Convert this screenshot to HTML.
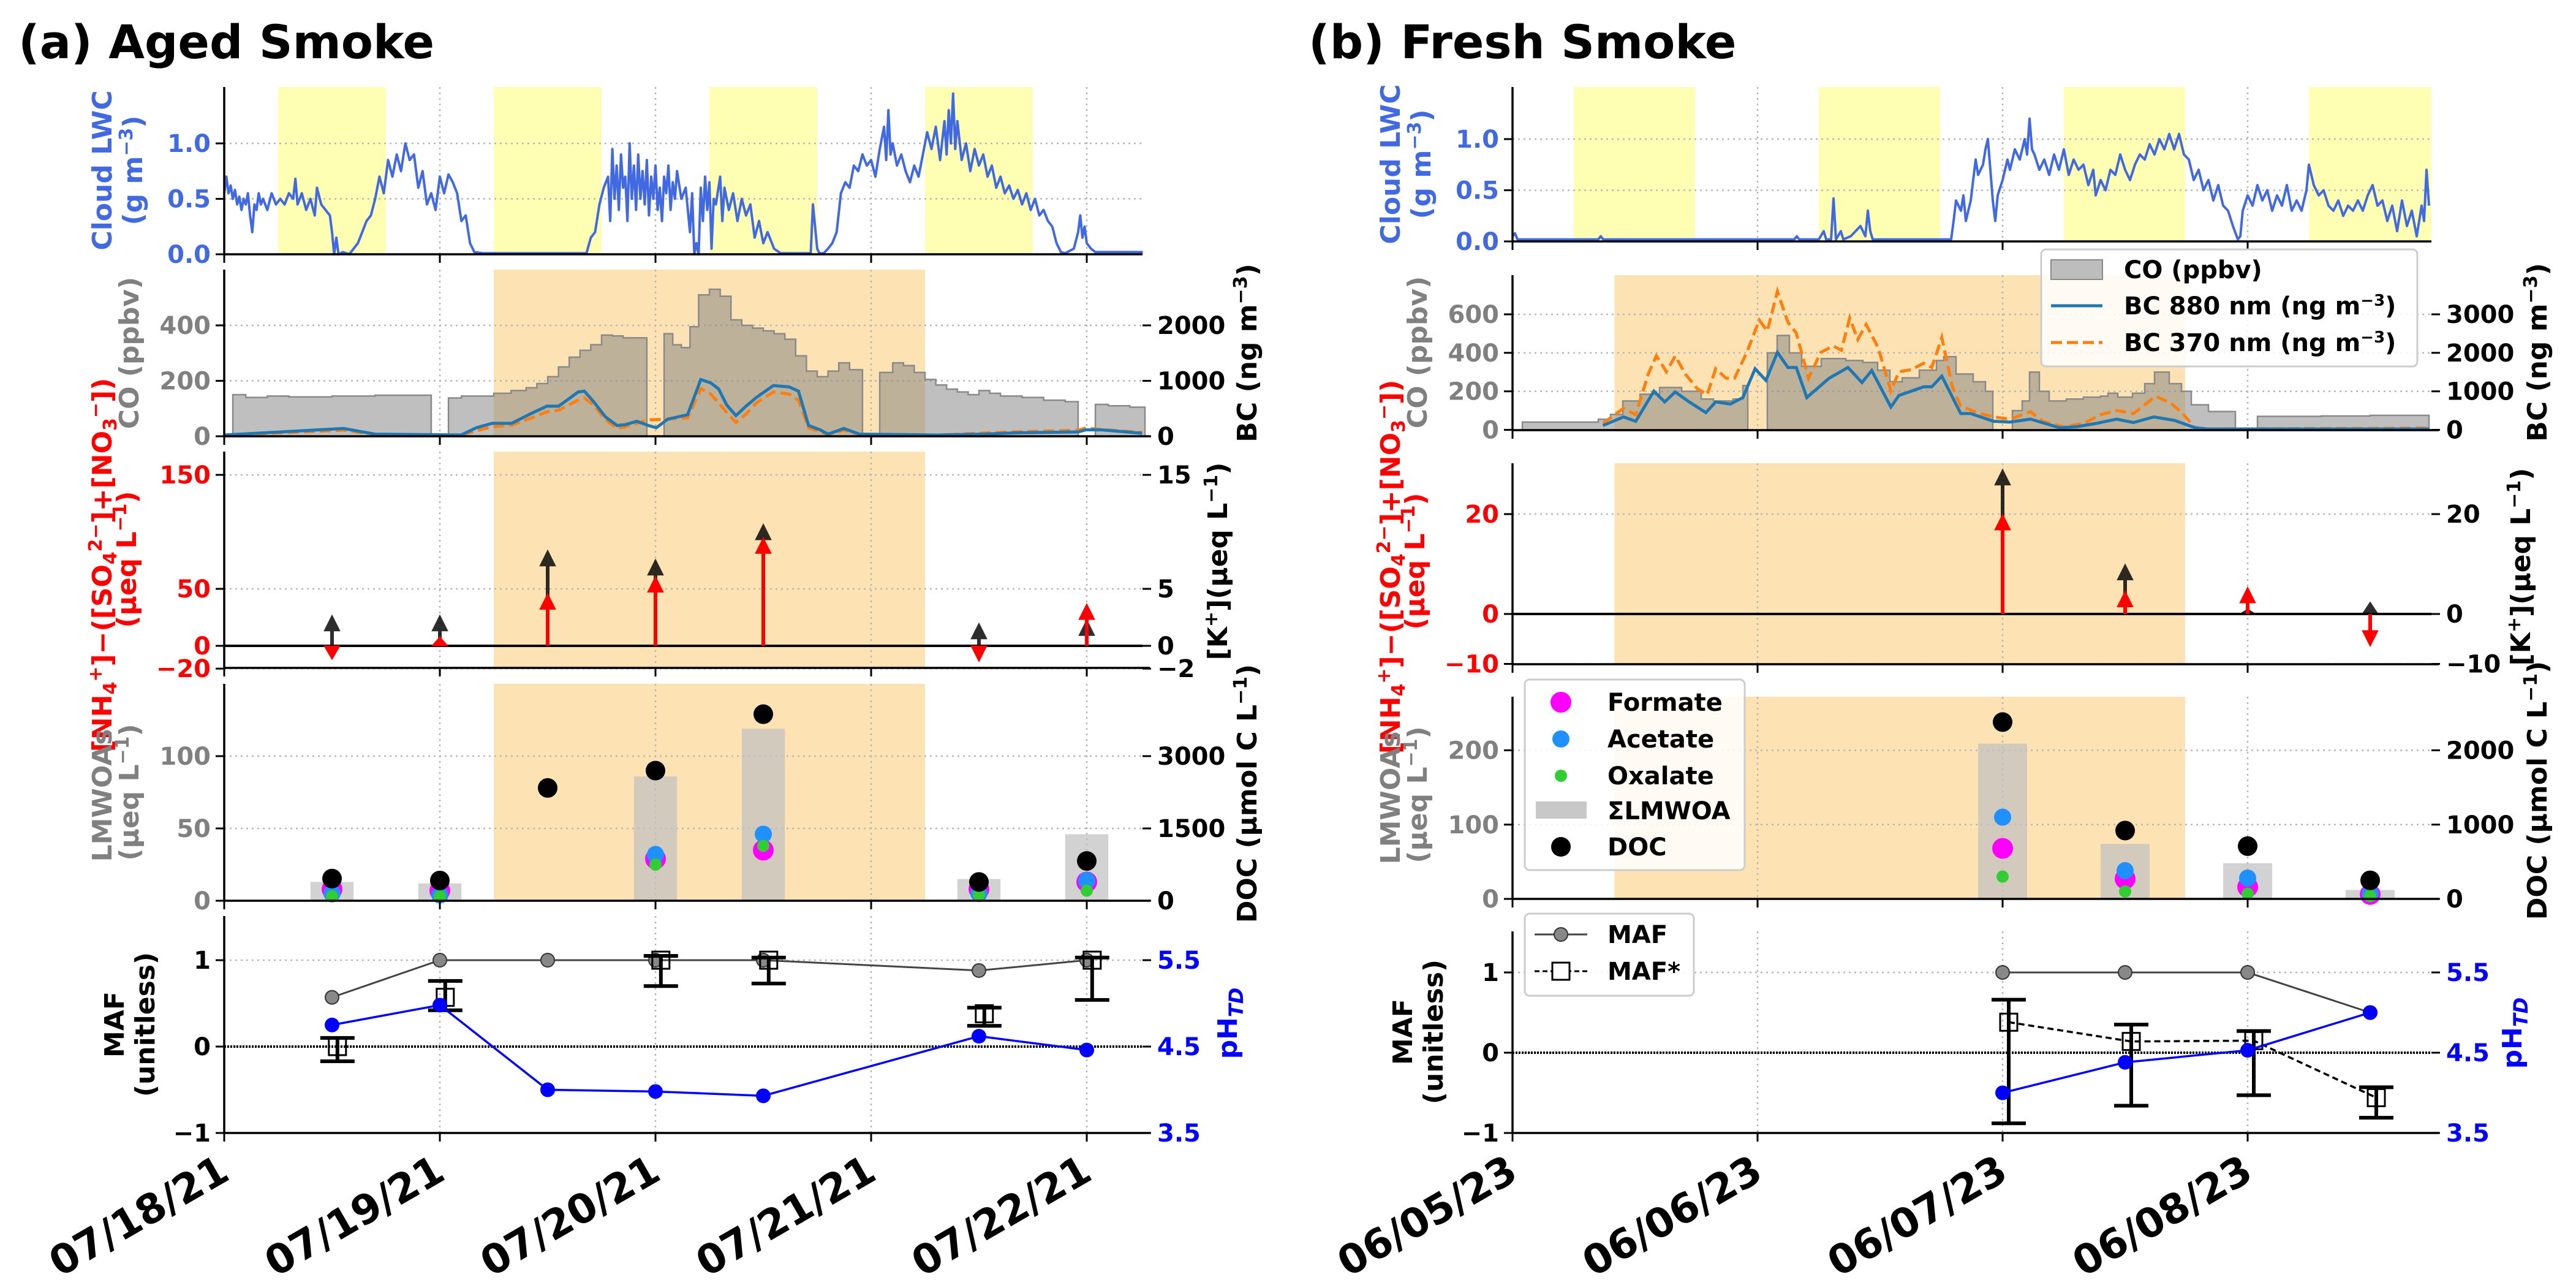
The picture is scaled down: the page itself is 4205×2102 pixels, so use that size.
<!DOCTYPE html>
<html><head><meta charset="utf-8"><title>Aged vs Fresh Smoke</title>
<style>
html,body{margin:0;padding:0;background:#fff;}
svg{display:block;font-family:"DejaVu Sans","Liberation Sans",sans-serif;font-weight:bold;}
</style></head>
<body>
<svg id="chart" xmlns="http://www.w3.org/2000/svg" width="4205" height="2102" viewBox="0 0 4205 2102">
<rect x="0" y="0" width="4205" height="2102" fill="#fff"/>
<text x="30" y="95" font-size="76" fill="#000">(a) Aged Smoke</text>
<text x="2136" y="95" font-size="76" fill="#000">(b) Fresh Smoke</text>
<g id="layer"></g>

<!-- Panel A y labels -->
<g font-size="44" text-anchor="middle">
<text transform="translate(182,278) rotate(-90)" fill="#4169e1">Cloud LWC</text>
<text transform="translate(232,278) rotate(-90)" fill="#4169e1">(g m<tspan dy="-16" font-size="30">−3</tspan><tspan dy="16">)</tspan></text>
<text transform="translate(226,576) rotate(-90)" fill="#808080">CO (ppbv)</text>
<text transform="translate(182,922) rotate(-90)" fill="#ff0000">[NH<tspan dy="8" font-size="30">4</tspan><tspan dy="-24" font-size="30">+</tspan><tspan dy="16">]−([SO</tspan><tspan dy="8" font-size="30">4</tspan><tspan dy="-24" font-size="30">2−</tspan><tspan dy="16">]+[NO</tspan><tspan dy="8" font-size="30">3</tspan><tspan dy="-24" font-size="30">−</tspan><tspan dy="16">])</tspan></text>
<text transform="translate(222,913) rotate(-90)" fill="#ff0000">(μeq L<tspan dy="-16" font-size="30">−1</tspan><tspan dy="16">)</tspan></text>
<text transform="translate(182,1298) rotate(-90)" fill="#808080">LMWOAs</text>
<text transform="translate(226,1293) rotate(-90)" fill="#808080">(μeq L<tspan dy="-16" font-size="30">−1</tspan><tspan dy="16">)</tspan></text>
<text transform="translate(202,1672) rotate(-90)" fill="#000">MAF</text>
<text transform="translate(252,1672) rotate(-90)" fill="#000">(unitless)</text>
<text transform="translate(2051,576) rotate(-90)" fill="#000">BC (ng m<tspan dy="-16" font-size="30">−3</tspan><tspan dy="16">)</tspan></text>
<text transform="translate(2003,916) rotate(-90)" fill="#000">[K<tspan dy="-16" font-size="30">+</tspan><tspan dy="16">](μeq L</tspan><tspan dy="-16" font-size="30">−1</tspan><tspan dy="16">)</tspan></text>
<text transform="translate(2051,1295) rotate(-90)" fill="#000">DOC (μmol C L<tspan dy="-16" font-size="30">−1</tspan><tspan dy="16">)</tspan></text>
<text transform="translate(2019,1670) rotate(-90)" fill="#0000ff">pH<tspan dy="10" font-size="32" font-style="italic">TD</tspan></text>
</g>

<!-- Panel B y labels -->
<g font-size="44" text-anchor="middle">
<text transform="translate(2285,268) rotate(-90)" fill="#4169e1">Cloud LWC</text>
<text transform="translate(2335,268) rotate(-90)" fill="#4169e1">(g m<tspan dy="-16" font-size="30">−3</tspan><tspan dy="16">)</tspan></text>
<text transform="translate(2329,575) rotate(-90)" fill="#808080">CO (ppbv)</text>
<text transform="translate(2285,925) rotate(-90)" fill="#ff0000">[NH<tspan dy="8" font-size="30">4</tspan><tspan dy="-24" font-size="30">+</tspan><tspan dy="16">]−([SO</tspan><tspan dy="8" font-size="30">4</tspan><tspan dy="-24" font-size="30">2−</tspan><tspan dy="16">]+[NO</tspan><tspan dy="8" font-size="30">3</tspan><tspan dy="-24" font-size="30">−</tspan><tspan dy="16">])</tspan></text>
<text transform="translate(2325,916) rotate(-90)" fill="#ff0000">(μeq L<tspan dy="-16" font-size="30">−1</tspan><tspan dy="16">)</tspan></text>
<text transform="translate(2285,1302) rotate(-90)" fill="#808080">LMWOAs</text>
<text transform="translate(2329,1297) rotate(-90)" fill="#808080">(μeq L<tspan dy="-16" font-size="30">−1</tspan><tspan dy="16">)</tspan></text>
<text transform="translate(2305,1684) rotate(-90)" fill="#000">MAF</text>
<text transform="translate(2355,1684) rotate(-90)" fill="#000">(unitless)</text>
<text transform="translate(4157,575) rotate(-90)" fill="#000">BC (ng m<tspan dy="-16" font-size="30">−3</tspan><tspan dy="16">)</tspan></text>
<text transform="translate(4130,925) rotate(-90)" fill="#000">[K<tspan dy="-16" font-size="30">+</tspan><tspan dy="16">](μeq L</tspan><tspan dy="-16" font-size="30">−1</tspan><tspan dy="16">)</tspan></text>
<text transform="translate(4157,1290) rotate(-90)" fill="#000">DOC (μmol C L<tspan dy="-16" font-size="30">−1</tspan><tspan dy="16">)</tspan></text>
<text transform="translate(4116,1686) rotate(-90)" fill="#0000ff">pH<tspan dy="10" font-size="32" font-style="italic">TD</tspan></text>
</g>

<!-- Legends panel B -->
<g font-size="40">
<rect x="3332" y="407" width="614" height="191" rx="8" fill="#fff" fill-opacity="0.85" stroke="#cccccc" stroke-width="3"/>
<rect x="3348" y="424" width="84" height="32" fill="#bdbdbd" stroke="#888" stroke-width="2"/>
<text x="3467" y="454">CO (ppbv)</text>
<line x1="3348" y1="499" x2="3432" y2="499" stroke="#1f77b4" stroke-width="5"/>
<text x="3467" y="513">BC 880 nm (ng m<tspan dy="-14" font-size="26">−3</tspan><tspan dy="14">)</tspan></text>
<line x1="3348" y1="559" x2="3432" y2="559" stroke="#ff7f0e" stroke-width="5" stroke-dasharray="18,8"/>
<text x="3467" y="573">BC 370 nm (ng m<tspan dy="-14" font-size="26">−3</tspan><tspan dy="14">)</tspan></text>
</g>
<g font-size="40">
<rect x="2489" y="1109" width="359" height="311" rx="8" fill="#fff" fill-opacity="0.85" stroke="#cccccc" stroke-width="3"/>
<circle cx="2548" cy="1146" r="17" fill="#ff00ff"/>
<text x="2624" y="1160">Formate</text>
<circle cx="2548" cy="1206" r="14" fill="#1e90ff"/>
<text x="2624" y="1220">Acetate</text>
<circle cx="2548" cy="1266" r="10" fill="#32cd32"/>
<text x="2624" y="1280">Oxalate</text>
<rect x="2507" y="1308" width="83" height="28" fill="#c8c8c8"/>
<text x="2624" y="1337">ΣLMWOA</text>
<circle cx="2548" cy="1382" r="16" fill="#000"/>
<text x="2624" y="1396">DOC</text>
</g>
<g font-size="40">
<rect x="2489" y="1491" width="276" height="134" rx="8" fill="#fff" fill-opacity="0.85" stroke="#cccccc" stroke-width="3"/>
<line x1="2505" y1="1525" x2="2591" y2="1525" stroke="#444" stroke-width="3"/>
<circle cx="2548" cy="1525" r="11" fill="#888" stroke="#333" stroke-width="2"/>
<text x="2624" y="1539">MAF</text>
<line x1="2505" y1="1585" x2="2591" y2="1585" stroke="#000" stroke-width="3" stroke-dasharray="8,5"/>
<rect x="2534" y="1571" width="28" height="28" fill="#fff" stroke="#000" stroke-width="3"/>
<text x="2624" y="1599">MAF*</text>
</g>
</svg>

<script>
// ---------------- DATA: Panel A (Aged smoke, days since 07/18/21) ----------------
const lwcA_t = [0,.01,.02,.03,.04,.05,.06,.07,.08,.09,.1,.11,.12,.13,.14,.15,.16,.17,.18,.2,.22,.24,.26,.28,.3,.32,.33,.34,.36,.38,.4,.42,.43,.45,.47,.49,.5,.51,.52,.53,.55,.58,.6,.62,.64,.66,.68,.7,.72,.74,.76,.78,.8,.82,.84,.86,.88,.9,.92,.94,.96,.98,1.0,1.02,1.04,1.06,1.08,1.1,1.12,1.14,1.16,1.2,1.6,1.68,1.7,1.72,1.74,1.76,1.78,1.79,1.8,1.81,1.82,1.83,1.84,1.85,1.86,1.87,1.88,1.89,1.9,1.91,1.92,1.93,1.94,1.95,1.96,1.97,1.98,1.99,2.0,2.01,2.02,2.03,2.04,2.05,2.06,2.07,2.08,2.09,2.1,2.12,2.14,2.16,2.17,2.18,2.19,2.2,2.21,2.22,2.23,2.24,2.25,2.26,2.27,2.28,2.3,2.31,2.32,2.34,2.36,2.38,2.4,2.42,2.44,2.46,2.48,2.5,2.52,2.55,2.58,2.72,2.73,2.75,2.76,2.78,2.8,2.82,2.84,2.86,2.88,2.9,2.92,2.94,2.96,2.98,3.0,3.02,3.04,3.06,3.07,3.08,3.09,3.1,3.12,3.14,3.16,3.18,3.2,3.22,3.24,3.26,3.28,3.3,3.32,3.34,3.35,3.36,3.37,3.38,3.39,3.4,3.42,3.44,3.46,3.48,3.5,3.52,3.54,3.56,3.58,3.6,3.62,3.64,3.66,3.68,3.7,3.72,3.74,3.76,3.78,3.8,3.82,3.84,3.86,3.88,3.9,3.94,3.96,3.97,3.98,3.99,4.0,4.02,4.04,4.26];
const lwcA_v = [.55,.7,.55,.62,.5,.58,.45,.52,.4,.5,.45,.55,.35,.2,.45,.4,.55,.45,.5,.4,.55,.45,.5,.45,.55,.5,.68,.45,.55,.4,.5,.35,.6,.45,.4,.35,.2,0,.15,0,.02,0,.05,.1,.2,.3,.35,.5,.7,.55,.85,.7,.9,.75,1.0,.85,.9,.6,.75,.45,.55,.4,.7,.55,.72,.65,.55,.3,.35,.1,.02,.01,.01,.01,.15,.2,.45,.6,.7,.3,.95,.5,.8,.4,.9,.6,.7,.3,1.0,.5,.8,.4,.9,.5,.75,.45,.85,.35,.7,.5,.8,.4,.6,.3,.7,.55,.8,.4,.65,.5,.75,.5,.6,.2,.55,0,.1,0,.6,.3,.7,.4,.65,.05,.5,.45,.7,.3,.6,.4,.55,.3,.5,.35,.45,.15,.3,.1,.2,.05,.01,.01,.45,.05,.01,.01,.05,.1,.2,.55,.65,.6,.8,.75,.9,.8,.85,.7,.95,1.15,.85,1.3,.9,1.0,.8,.9,.75,.65,.8,.7,.9,1.1,.95,1.15,.85,1.2,.9,1.3,1.0,1.45,.95,1.2,.85,1.0,.75,.95,.8,.9,.7,.8,.6,.7,.55,.62,.5,.58,.45,.55,.4,.5,.35,.4,.3,.25,.1,.02,.01,.05,.2,.35,.15,.25,.1,.05,.02,.02];

const coA_t = [0.04,0.1,0.2,0.3,0.5,0.7,0.96,1.04,1.1,1.25,1.33,1.4,1.45,1.5,1.55,1.6,1.65,1.7,1.75,1.8,1.85,1.96,2.04,2.08,2.12,2.16,2.2,2.25,2.3,2.35,2.4,2.45,2.5,2.55,2.6,2.65,2.7,2.75,2.8,2.85,2.9,2.96,3.04,3.1,3.15,3.2,3.25,3.3,3.35,3.4,3.45,3.5,3.55,3.6,3.7,3.8,3.9,3.96,4.04,4.1,4.2,4.27];
const coA_v = [150,140,145,142,145,148,null,138,145,155,165,175,190,215,250,285,310,330,365,362,355,null,370,330,320,395,510,530,505,420,400,390,380,370,350,290,235,215,235,265,240,null,230,265,255,230,205,185,170,160,150,165,155,145,140,130,125,null,115,110,105,null];

const bcA_t   = [0,0.554,0.699,1.098,1.17,1.243,1.333,1.424,1.496,1.551,1.641,1.67,1.714,1.768,1.822,1.859,1.913,1.967,2.004,2.058,2.149,2.21,2.257,2.293,2.33,2.373,2.42,2.467,2.547,2.62,2.663,2.71,2.764,2.8,2.873,2.946,3.308,3.525,3.67,3.96,3.996,4.069,4.257];
const bcA_880 = [23,140,39,23,155,233,233,411,542,542,798,814,620,349,194,209,271,194,155,310,388,1023,961,853,566,372,542,698,915,891,814,194,116,39,140,39,23,39,62,78,116,116,54];
const bcA_370 = [15,110,30,15,100,170,200,330,440,470,650,690,560,300,140,170,230,300,300,310,330,860,760,600,430,250,400,600,800,760,650,150,80,30,110,25,20,60,80,110,150,120,70];

const sampA   = [0.5,1.0,1.5,2.0,2.5,3.5,4.0];
const ionA    = [-12,8,46,61,95,-14,37];
const kA      = [2.7,2.7,8.4,7.6,10.7,2.0,2.3];
const lmwA    = [13,12,null,86,119,15,46];
const formA   = [8,7,null,29,35,8,13];
const acetA   = [5,4,null,32,46,5,14];
const oxalA   = [3,3,null,25,38,4,7];
const docA    = [460,420,2340,2700,3870,390,825];
const mafA    = [0.57,1,1,1,1,0.88,1];
const mafsA   = [0,0.57,null,1,1,0.38,1];
const mafsLoA = [-0.17,0.42,null,0.7,0.73,0.24,0.54];
const mafsHiA = [0.1,0.76,null,1.05,1.03,0.45,1.03];
const phA     = [4.75,4.98,4.0,3.98,3.93,4.62,4.46];

// ---------------- DATA: Panel B (Fresh smoke, days since 06/05/23) ----------------
const lwcB_t = [0,.01,.02,.35,.36,.37,1.15,1.16,1.17,1.25,1.27,1.28,1.3,1.31,1.32,1.34,1.35,1.38,1.4,1.42,1.44,1.45,1.46,1.47,1.79,1.8,1.81,1.83,1.84,1.85,1.87,1.88,1.89,1.9,1.92,1.93,1.94,1.95,1.96,1.97,1.98,2.0,2.02,2.03,2.05,2.07,2.09,2.1,2.11,2.12,2.13,2.15,2.17,2.19,2.21,2.23,2.25,2.27,2.29,2.31,2.33,2.35,2.37,2.38,2.4,2.42,2.44,2.46,2.48,2.5,2.52,2.54,2.56,2.58,2.6,2.62,2.64,2.66,2.68,2.7,2.72,2.74,2.76,2.78,2.8,2.82,2.84,2.86,2.88,2.9,2.92,2.94,2.96,2.97,2.98,3.0,3.02,3.04,3.06,3.08,3.1,3.12,3.14,3.16,3.18,3.2,3.22,3.24,3.25,3.27,3.29,3.31,3.33,3.35,3.37,3.39,3.41,3.43,3.45,3.47,3.49,3.51,3.53,3.55,3.57,3.59,3.61,3.63,3.65,3.67,3.69,3.71,3.72,3.73,3.74];
const lwcB_v = [.05,.08,.02,.02,.05,.02,.02,.05,.02,.02,.1,.02,.02,.42,.02,.1,.02,.05,.1,.15,.05,.3,.1,.02,.02,.2,.4,.3,.45,.2,.4,.6,.8,.65,.75,.9,1.0,.7,.4,.2,.45,.6,.8,.7,.9,.8,1.0,.85,1.2,.9,.85,.7,.8,.65,.85,.7,.9,.65,.8,.7,.75,.55,.7,.45,.6,.5,.7,.65,.85,.7,.6,.75,.85,.8,.95,.85,1.0,.9,1.05,.9,1.05,.85,.8,.6,.7,.5,.6,.4,.55,.35,.3,.15,.02,.05,.3,.45,.35,.55,.4,.5,.3,.45,.35,.55,.3,.4,.3,.5,.75,.55,.45,.5,.35,.3,.4,.25,.35,.3,.4,.3,.45,.55,.35,.4,.2,.35,.1,.4,.15,.3,.05,.35,.2,.7,.35];

const coB_t = [0.04,0.35,0.4,0.45,0.52,0.6,0.69,0.77,0.82,0.9,0.94,0.96,1.04,1.08,1.13,1.18,1.26,1.36,1.43,1.49,1.54,1.59,1.66,1.73,1.76,1.81,1.88,1.93,1.96,2.04,2.08,2.11,2.15,2.19,2.26,2.33,2.4,2.43,2.47,2.53,2.58,2.62,2.68,2.73,2.77,2.84,2.95,3.04,3.3,3.5,3.74];
const coB_v = [40,55,80,150,185,220,200,160,150,160,230,null,400,490,400,330,370,360,350,310,250,270,310,360,380,290,250,200,null,100,150,300,200,150,160,170,175,190,170,190,240,300,240,200,130,95,null,70,72,75,null];

const bcB_t   = [0.369,0.453,0.503,0.577,0.621,0.664,0.721,0.789,0.829,0.889,0.94,0.99,1.034,1.081,1.124,1.158,1.201,1.292,1.369,1.426,1.466,1.544,1.577,1.628,1.678,1.711,1.752,1.829,1.869,1.963,2.03,2.114,2.232,2.299,2.383,2.466,2.534,2.617,2.701,2.785,2.836,3.742];
const bcB_880 = [112,335,223,1005,726,983,726,447,726,670,838,1586,1285,2011,1620,1620,838,1340,1620,1229,1541,592,894,1005,1117,1117,1396,424,424,223,201,279,56,78,168,279,190,335,246,56,22,22];
const bc370B_t = [0.369,0.453,0.503,0.554,0.587,0.628,0.664,0.705,0.755,0.795,0.829,0.872,0.906,0.956,1.007,1.04,1.081,1.124,1.158,1.208,1.258,1.309,1.342,1.376,1.409,1.443,1.493,1.544,1.577,1.628,1.678,1.711,1.752,1.795,1.829,1.896,1.963,2.03,2.114,2.164,2.248,2.332,2.399,2.466,2.534,2.584,2.624,2.685,2.735,2.785,2.836,3.742];
const bcB_370 = [168,559,391,1452,1921,1508,1921,1452,1061,916,1586,1340,1340,2011,2848,2569,3597,2793,2513,1340,2011,2178,2066,2904,2346,2737,2122,1005,1508,1564,1731,1620,2402,1117,614,447,335,279,469,223,78,168,391,503,424,670,871,704,424,56,22,45];

const sampB   = [2.0,2.5,3.0,3.5];
const ionB    = [20,4.6,5.4,-6.5];
const kB      = [29,10,1.0,2.4];
const lmwB    = [209,74,48,12];
const formB   = [68,27,16,6];
const acetB   = [110,38,28,7];
const oxalB   = [30,10,7,4];
const docB    = [2380,920,710,250];
const mafB    = [1,1,1,0.5];
const mafsB   = [0.38,0.14,0.15,-0.56];
const mafsLoB = [-0.88,-0.66,-0.53,-0.81];
const mafsHiB = [0.66,0.35,0.27,-0.43];
const phB     = [4.0,4.38,4.53,5.0];

// tick labels
const dayLabelsA = ['07/18/21','07/19/21','07/20/21','07/21/21','07/22/21'];
const dayLabelsB = ['06/05/23','06/06/23','06/07/23','06/08/23'];

// ---------------- RENDERING ----------------
const NS = 'http://www.w3.org/2000/svg';
const layer = document.getElementById('layer');
function mk(tag, attrs, parent){
  const e = document.createElementNS(NS, tag);
  for (const k in attrs) e.setAttribute(k, attrs[k]);
  (parent || layer).appendChild(e);
  return e;
}
function fmt(v, dec){
  const s = dec ? Math.abs(v).toFixed(dec) : String(Math.abs(v));
  return v < 0 ? '−' + s : s;
}

const panelA = {
  key:'a', x0:366, ppd:352, x1:1865, xmax:4.27, labels:dayLabelsA,
  yellow:[[0.25,0.75],[1.25,1.75],[2.25,2.75],[3.25,3.75]], orange:[1.25,3.25],
  subs:[
    {top:142,bot:415,zero:415,unit:181,lt:[0,0.5,1.0],dec:1,lc:'#4169e1'},
    {top:440,bot:712,zero:712,unit:0.4525,lt:[0,200,400],lc:'#808080',rt:[0,1000,2000],r2l:v=>v/5,rc:'#000'},
    {top:737,bot:1090,zero:1054,unit:1.86,lt:[-20,0,50,150],lc:'#ff0000',rt:[-2,0,5,15],r2l:v=>v*10,rc:'#000'},
    {top:1116,bot:1470,zero:1470,unit:2.36,lt:[0,50,100],lc:'#808080',rt:[0,1500,3000],r2l:v=>v/30,rc:'#000'},
    {top:1495,bot:1849,zero:1708,unit:141,lt:[-1,0,1],lc:'#000',rt:[3.5,4.5,5.5],r2l:v=>v-4.5,rc:'#0000ff',rdec:1}
  ],
  kFactor:10, docFactor:30,
  lwc_t:lwcA_t, lwc_v:lwcA_v, co_t:coA_t, co_v:coA_v,
  bc_t:bcA_t, bc880:bcA_880, bc370_t:bcA_t, bc370:bcA_370,
  samp:sampA, ion:ionA, k:kA, lmw:lmwA, form:formA, acet:acetA, oxal:oxalA, doc:docA,
  maf:mafA, mafs:mafsA, mafsLo:mafsLoA, mafsHi:mafsHiA, ph:phA, mafsLine:false
};
const panelB = {
  key:'b', x0:2469, ppd:400, x1:3969, xmax:3.75, labels:dayLabelsB,
  yellow:[[0.25,0.745],[1.25,1.745],[2.25,2.745],[3.25,3.75]], orange:[0.416,2.745],
  subs:[
    {top:142,bot:394,zero:394,unit:167,lt:[0,0.5,1.0],dec:1,lc:'#4169e1'},
    {top:449,bot:702,zero:701.5,unit:0.3142,lt:[0,200,400,600],lc:'#808080',rt:[0,1000,2000,3000],r2l:v=>v/5,rc:'#000'},
    {top:756,bot:1084,zero:1002,unit:8.15,lt:[-10,0,20],lc:'#ff0000',rt:[-10,0,20],r2l:v=>v,rc:'#000'},
    {top:1137,bot:1467,zero:1467,unit:1.2125,lt:[0,100,200],lc:'#808080',rt:[0,1000,2000],r2l:v=>v/10,rc:'#000'},
    {top:1520,bot:1849,zero:1718,unit:131,lt:[-1,0,1],lc:'#000',rt:[3.5,4.5,5.5],r2l:v=>v-4.5,rc:'#0000ff',rdec:1}
  ],
  kFactor:1, docFactor:10,
  lwc_t:lwcB_t, lwc_v:lwcB_v, co_t:coB_t, co_v:coB_v,
  bc_t:bcB_t, bc880:bcB_880, bc370_t:bc370B_t, bc370:bcB_370,
  samp:sampB, ion:ionB, k:kB, lmw:lmwB, form:formB, acet:acetB, oxal:oxalB, doc:docB,
  maf:mafB, mafs:mafsB, mafsLo:mafsLoB, mafsHi:mafsHiB, ph:phB, mafsLine:true
};

function drawPanel(P){
  const X = d => P.x0 + d*P.ppd;
  const Ys = P.subs.map(s => (v => s.zero - v*s.unit));
  const g = mk('g', {});
  
  

  P.yellow.forEach(sp => {
    const a = Math.max(0, sp[0]), b = Math.min(P.xmax, sp[1]);
    const r = mk('rect', {x:X(a), y:P.subs[0].top, width:X(b)-X(a), height:P.subs[0].bot-P.subs[0].top, fill:'#ffffb3'}, g);
    
    
  });
  [1,2,3].forEach(i => {
    const s = P.subs[i];
    const r = mk('rect', {x:X(P.orange[0]), y:s.top, width:X(P.orange[1])-X(P.orange[0]), height:s.bot-s.top, fill:'#fde3b4'}, g);
    
    
  });

  P.subs.forEach((s, i) => {
    P.labels.forEach((lab, d) => {
      const l = mk('line', {x1:X(d), x2:X(d), y1:s.top, y2:s.bot, stroke:'#b8b8b8', 'stroke-width':2.5, 'stroke-dasharray':'3,6'}, g);
      
      
    });
    s.lt.forEach(v => {
      const l = mk('line', {x1:P.x0, x2:P.x1, y1:Ys[i](v), y2:Ys[i](v), stroke:'#b8b8b8', 'stroke-width':2.5, 'stroke-dasharray':'3,6'}, g);
      
      
    });
  });

  {
    const y = Ys[0];
    let d = '';
    P.lwc_t.forEach((t, j) => { d += (j ? 'L' : 'M') + X(t).toFixed(1) + ',' + y(P.lwc_v[j]).toFixed(1); });
    const p = mk('path', {d:d, fill:'none', stroke:'#4169e1', 'stroke-width':4, 'stroke-linejoin':'round'}, g);
    
    
  }

  {
    const y = Ys[1];
    let d = '', open = false;
    for (let j = 0; j < P.co_t.length - 1; j++) {
      const v = P.co_v[j];
      if (v === null) { if (open) { d += 'L' + X(P.co_t[j]) + ',' + y(0) + 'Z'; open = false; } continue; }
      if (!open) { d += 'M' + X(P.co_t[j]) + ',' + y(0); open = true; }
      d += 'L' + X(P.co_t[j]) + ',' + y(v) + 'L' + X(P.co_t[j+1]) + ',' + y(v);
    }
    if (open) d += 'L' + X(P.co_t[P.co_t.length-1]) + ',' + y(0) + 'Z';
    const p = mk('path', {d:d, fill:'#808080', 'fill-opacity':0.5, stroke:'#8a8a8a', 'stroke-width':2.5}, g);
    
    

    let d1 = '';
    P.bc_t.forEach((t, j) => { d1 += (j ? 'L' : 'M') + X(t).toFixed(1) + ',' + y(P.bc880[j]/5).toFixed(1); });
    let d2 = '';
    P.bc370_t.forEach((t, j) => { d2 += (j ? 'L' : 'M') + X(t).toFixed(1) + ',' + y(P.bc370[j]/5).toFixed(1); });
    const l2 = mk('path', {d:d2, fill:'none', stroke:'#ff7f0e', 'stroke-width':5, 'stroke-dasharray':'18,8'}, g);
    
    
    const l1 = mk('path', {d:d1, fill:'none', stroke:'#1f77b4', 'stroke-width':5}, g);
    
    
  }

  {
    const y = Ys[2];
    const zl = mk('line', {x1:P.x0, x2:P.x1, y1:y(0), y2:y(0), stroke:'#000', 'stroke-width':4}, g);
    
    
    function arrow(x, v, color, op, name){
      const y0 = y(0), y1 = y(v);
      const dir = y1 < y0 ? -1 : 1;
      const hl = 26, hw = 13;
      const gg = mk('g', {opacity:op}, g);
      
      
      const len = Math.abs(y1 - y0);
      if (len > hl) mk('line', {x1:x, x2:x, y1:y0, y2:y1 - dir*hl, stroke:color, 'stroke-width':6}, gg);
      const base = len > hl ? y1 - dir*hl : y0;
      mk('polygon', {points:`${x-hw},${base} ${x+hw},${base} ${x},${y1}`, fill:color, stroke:color, 'stroke-width':1}, gg);
    }
    P.samp.forEach((t, j) => {
      arrow(X(t), P.k[j]*P.kFactor, '#000', 0.82, 'potassium-arrow');
      arrow(X(t), P.ion[j], '#ff0000', 1, 'ion-balance-arrow');
    });
  }

  {
    const y = Ys[3];
    P.samp.forEach((t, j) => {
      if (P.lmw[j] !== null) {
        const b = mk('rect', {x:X(t-0.1), y:y(P.lmw[j]), width:X(t+0.1)-X(t-0.1), height:y(0)-y(P.lmw[j]), fill:'#c0c0c0', 'fill-opacity':0.72}, g);
        
        
      }
    });
    P.samp.forEach((t, j) => {
      if (P.form[j] !== null) {
        const c1 = mk('circle', {cx:X(t), cy:y(P.form[j]), r:17, fill:'#ff00ff'}, g);
        
        
        const c2 = mk('circle', {cx:X(t), cy:y(P.acet[j]), r:14, fill:'#1e90ff'}, g);
        
        
        const c3 = mk('circle', {cx:X(t), cy:y(P.oxal[j]), r:10, fill:'#32cd32'}, g);
        
        
      }
      const c4 = mk('circle', {cx:X(t), cy:y(P.doc[j]/P.docFactor), r:16, fill:'#000'}, g);
      
      
    });
  }

  {
    const y = Ys[4];
    const zl = mk('line', {x1:P.x0, x2:P.x1, y1:y(0), y2:y(0), stroke:'#000', 'stroke-width':4, 'stroke-dasharray':'3,2'}, g);
    
    
    let dm = '';
    P.samp.forEach((t, j) => { dm += (j ? 'L' : 'M') + X(t) + ',' + y(P.maf[j]); });
    const ml = mk('path', {d:dm, fill:'none', stroke:'#444', 'stroke-width':3}, g);
    
    
    P.samp.forEach((t, j) => {
      const c = mk('circle', {cx:X(t), cy:y(P.maf[j]), r:11, fill:'#888', stroke:'#333', 'stroke-width':2}, g);
      
      
    });
    const off = 0.025;
    if (P.mafsLine) {
      let ds = '';
      P.samp.forEach((t, j) => { ds += (j ? 'L' : 'M') + X(t+off) + ',' + y(P.mafs[j]); });
      const sl = mk('path', {d:ds, fill:'none', stroke:'#000', 'stroke-width':3.5, 'stroke-dasharray':'10,6'}, g);
      
      
    }
    P.samp.forEach((t, j) => {
      if (P.mafs[j] === null) return;
      const x = X(t+off);
      const eg = mk('g', {}, g);
      
      
      mk('line', {x1:x, x2:x, y1:y(P.mafsLo[j]), y2:y(P.mafsHi[j]), stroke:'#000', 'stroke-width':6}, eg);
      mk('line', {x1:x-28, x2:x+28, y1:y(P.mafsLo[j]), y2:y(P.mafsLo[j]), stroke:'#000', 'stroke-width':6}, eg);
      mk('line', {x1:x-28, x2:x+28, y1:y(P.mafsHi[j]), y2:y(P.mafsHi[j]), stroke:'#000', 'stroke-width':6}, eg);
      const sq = mk('rect', {x:x-14, y:y(P.mafs[j])-14, width:28, height:28, fill:'none', stroke:'#000', 'stroke-width':3}, g);
      
      
    });
    let dp = '';
    P.samp.forEach((t, j) => { dp += (j ? 'L' : 'M') + X(t) + ',' + y(P.ph[j]-4.5); });
    const pl = mk('path', {d:dp, fill:'none', stroke:'#0000ff', 'stroke-width':3.5}, g);
    
    
    P.samp.forEach((t, j) => {
      const c = mk('circle', {cx:X(t), cy:y(P.ph[j]-4.5), r:12, fill:'#0000ff'}, g);
      
      
    });
  }

  P.subs.forEach((s, i) => {
    const y = Ys[i];
    const ax = mk('g', {}, g);
    
    
    mk('line', {x1:P.x0, x2:P.x0, y1:s.top, y2:s.bot, stroke:'#000', 'stroke-width':3.5}, ax);
    mk('line', {x1:P.x0, x2:P.x1 + (s.rt ? 12 : 0), y1:s.bot, y2:s.bot, stroke:'#000', 'stroke-width':3.5}, ax);
    P.labels.forEach((lab, d) => {
      mk('line', {x1:X(d), x2:X(d), y1:s.bot, y2:s.bot+14, stroke:'#000', 'stroke-width':3}, ax);
    });
    s.lt.forEach(v => {
      mk('line', {x1:P.x0-14, x2:P.x0, y1:y(v), y2:y(v), stroke:'#000', 'stroke-width':3}, ax);
      const t = mk('text', {x:P.x0-22, y:y(v)+14, 'text-anchor':'end', 'font-size':40, fill:s.lc}, ax);
      t.textContent = fmt(v, s.dec);
    });
    if (s.rt) {
      s.rt.forEach(v => {
        const yy = y(s.r2l(v));
        mk('line', {x1:P.x1, x2:P.x1+14, y1:yy, y2:yy, stroke:'#000', 'stroke-width':3}, ax);
        const t = mk('text', {x:P.x1+24, y:yy+14, 'text-anchor':'start', 'font-size':40, fill:s.rc}, ax);
        t.textContent = fmt(v, s.rdec);
      });
    }
  });

  const bot = P.subs[4].bot;
  P.labels.forEach((lab, d) => {
    const x = X(d) + 12, yy = bot + 74;
    const t = mk('text', {x:0, y:0, 'text-anchor':'end', 'font-size':66, transform:`translate(${x},${yy}) rotate(-30)`}, g);
    t.textContent = lab;
    
    
  });
}
drawPanel(panelA);
drawPanel(panelB);
</script>
</body></html>
